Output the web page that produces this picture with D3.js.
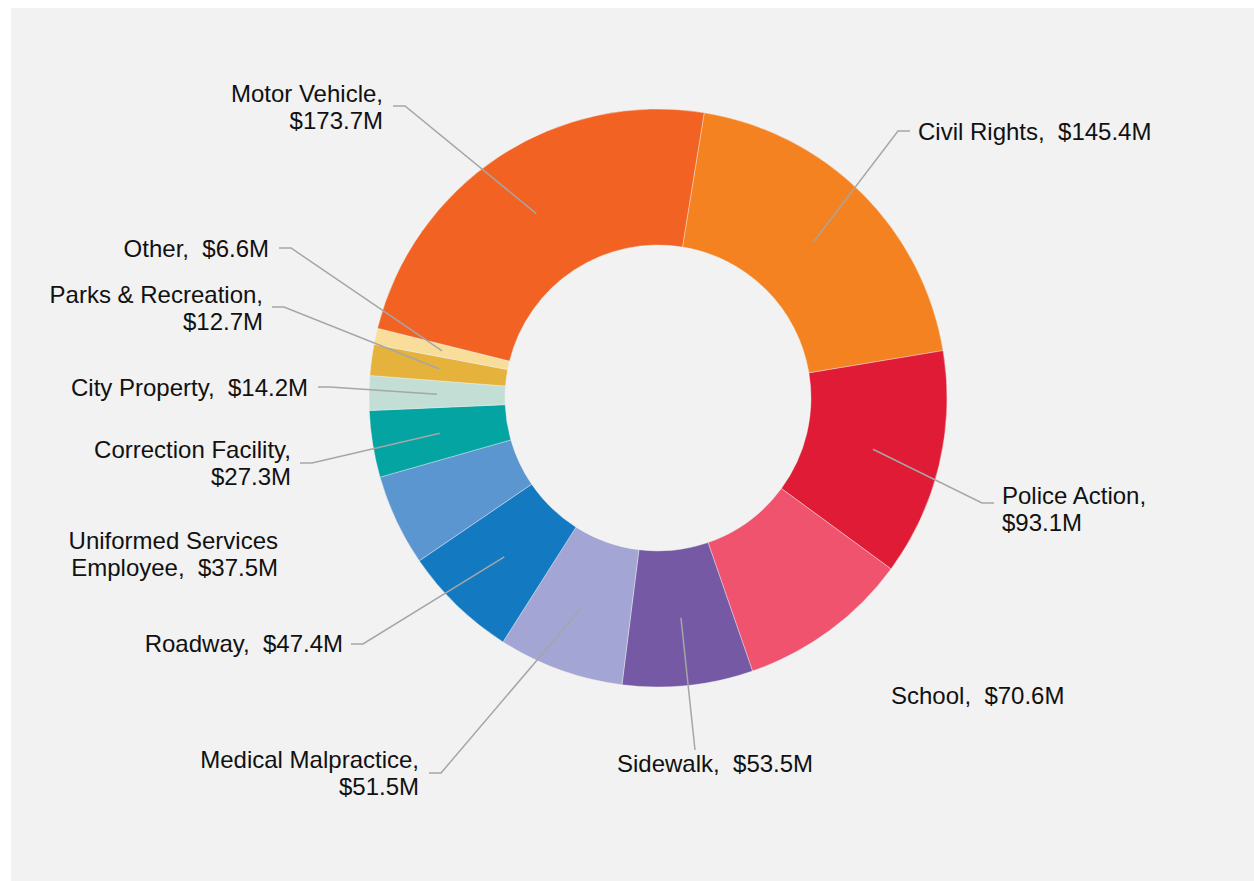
<!DOCTYPE html>
<html>
<head>
<meta charset="utf-8">
<script src="https://cdn.jsdelivr.net/npm/d3@7"></script>
<style>
  html, body { margin: 0; padding: 0; background: #ffffff; }
  svg { display: block; }
  text { font-family: "Liberation Sans", Arial, sans-serif; }
</style>
</head>
<body>
<div id="chart"></div>
<script>
'use strict';

// data, clockwise from the top
var categories = ["Civil Rights", "Police Action", "School", "Sidewalk", "Medical Malpractice",
    "Roadway", "Uniformed Services Employee", "Correction Facility", "City Property",
    "Parks & Recreation", "Other", "Motor Vehicle"];
var values = [145.4, 93.1, 70.6, 53.5, 51.5, 47.4, 37.5, 27.3, 14.2, 12.7, 6.6, 173.7];
var colors = ["#F58220", "#E01B35", "#EF536D", "#7559A5", "#A3A5D4", "#137AC1",
    "#5B96D0", "#03A4A2", "#C3DFD5", "#E5B33B", "#F9DE9B", "#F26323"];

// label layout: anchor x, first baseline, side, words of the name on line 1, leader elbow
var labelLayout = [
    {x: 918,  y: 140, side: "r", wrap: 99, elbow: [898, 131]},
    {x: 1002, y: 504, side: "r", wrap: 2,  elbow: [982, 503]},
    {x: 891,  y: 704, side: "r", wrap: 99, elbow: null},
    {x: 617,  y: 772, side: "r", wrap: 99, elbow: [695, 750], straight: true},
    {x: 419,  y: 768, side: "l", wrap: 2,  elbow: [441, 773]},
    {x: 343,  y: 652, side: "l", wrap: 99, elbow: [363, 644]},
    {x: 278,  y: 549, side: "l", wrap: 2,  elbow: null},
    {x: 291,  y: 458, side: "l", wrap: 2,  elbow: [312, 463]},
    {x: 308,  y: 396, side: "l", wrap: 99, elbow: [330, 387]},
    {x: 263,  y: 303, side: "l", wrap: 3,  elbow: [284, 307]},
    {x: 269,  y: 257, side: "l", wrap: 99, elbow: [291, 248]},
    {x: 383,  y: 102, side: "l", wrap: 2,  elbow: [405, 106]}
];

var width = 1254, height = 881;
var cx = 658, cy = 398, outerR = 289, innerR = 153;
var lineH = 27;

var svg = d3.select("#chart").append("svg")
    .attr("width", width).attr("height", height);

svg.append("rect")
    .attr("x", 11).attr("y", 8)
    .attr("width", width - 11).attr("height", height - 8)
    .attr("fill", "#f2f2f2");

var startDeg = 9.2;
var pie = d3.pie().sort(null)
    .startAngle(startDeg * Math.PI / 180)
    .endAngle((startDeg + 360) * Math.PI / 180);

var arc = d3.arc().innerRadius(innerR).outerRadius(outerR);

var arcs = pie(values);

var g = svg.append("g").attr("transform", "translate(" + cx + "," + cy + ")");

g.selectAll("path.slice")
    .data(arcs)
    .enter().append("path")
    .attr("class", "slice")
    .attr("d", arc)
    .attr("fill", function(d, i) { return colors[i]; })
    .attr("stroke", "#f2f2f2").attr("stroke-width", 0.4);

// leader lines
arcs.forEach(function(d, i) {
    var lay = labelLayout[i];
    if (!lay.elbow) return;
    var c = arc.centroid(d);
    var p0 = [cx + c[0], cy + c[1]];
    var pts = [p0, lay.elbow];
    if (!lay.straight) {
        var dir = lay.side === "r" ? 1 : -1;
        pts.push([lay.elbow[0] + dir * 12, lay.elbow[1]]);
    }
    svg.append("path")
        .attr("d", d3.line()(pts))
        .attr("fill", "none")
        .attr("stroke", "#a6a6a6").attr("stroke-width", 1.5);
});

function labelLines(i) {
    var name = categories[i];
    var val = "$" + values[i].toFixed(1) + "M";
    var words = name.split(" ");
    var n = labelLayout[i].wrap;
    if (n >= 99) return [name + ",  " + val];
    if (n >= words.length) return [name + ",", val];
    return [words.slice(0, n).join(" "), words.slice(n).join(" ") + ",  " + val];
}

arcs.forEach(function(d, i) {
    var lay = labelLayout[i];
    var t = svg.append("text")
        .attr("font-size", "24px")
        .attr("fill", "#111111")
        .attr("text-anchor", lay.side === "r" ? "start" : "end")
        .style("white-space", "pre");
    labelLines(i).forEach(function(s, k) {
        t.append("tspan")
            .attr("x", lay.x)
            .attr("y", lay.y + k * lineH)
            .text(s);
    });
});
</script>
</body>
</html>
